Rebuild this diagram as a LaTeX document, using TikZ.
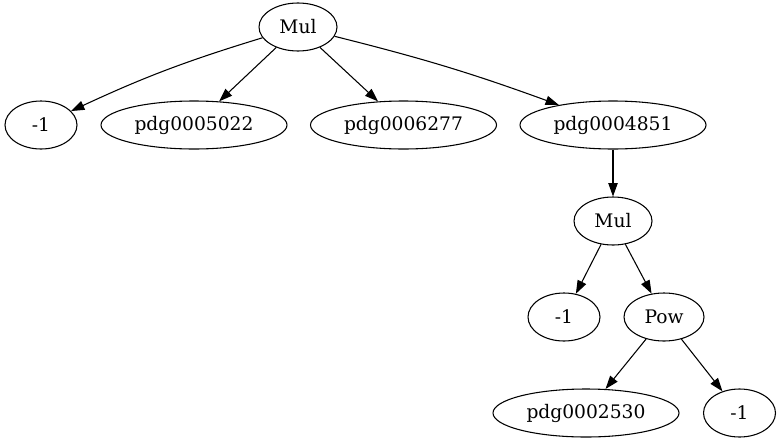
\documentclass[tikz,border=0pt]{standalone}
\usepackage{fontspec}
\newfontfamily\gvfont{DejaVu Serif}
\usetikzlibrary{shapes.geometric,arrows.meta}
\begin{document}
\begin{tikzpicture}[x=0.75pt,y=-0.75pt,
  gv/.style={ellipse,draw,line width=0.8pt,inner sep=0pt,minimum height=36pt,
    font=\gvfont\fontsize{14}{16}\selectfont},
  small/.style={gv,minimum width=54pt},
  mid/.style={gv,minimum width=58.5pt},
  wide/.style={gv,minimum width=139.5pt},
  edge/.style={draw,line width=0.8pt,-{Triangle[length=10pt,width=7pt]}}]
\useasboundingbox (0,0) rectangle (781,443);
\node[mid]  (mul)  at (298,27)  {Mul};
\node[small](m1)   at (41,125)  {-1};
\node[wide] (p5022) at (194,125) {pdg0005022};
\node[wide] (p6277) at (403.5,125) {pdg0006277};
\node[wide] (p4851) at (613,125) {pdg0004851};
\node[mid]  (mul2) at (613,221) {Mul};
\node[small](m2)   at (564,317) {-1};
\node[gv,minimum width=60pt] (pow) at (664,317) {Pow};
\node[wide] (p2530) at (586,413) {pdg0002530};
\node[small](m3)   at (739.5,413) {-1};
\path[edge] (mul) to[bend right=4] (m1);
\path[edge] (mul) -- (p5022);
\path[edge] (mul) -- (p6277);
\path[edge] (mul) to[bend left=3] (p4851);
\path[edge] (p4851) -- (mul2);
\path[edge] (mul2) -- (m2);
\path[edge] (mul2) -- (pow);
\path[edge] (pow) -- (p2530);
\path[edge] (pow) -- (m3);
\end{tikzpicture}
\end{document}
